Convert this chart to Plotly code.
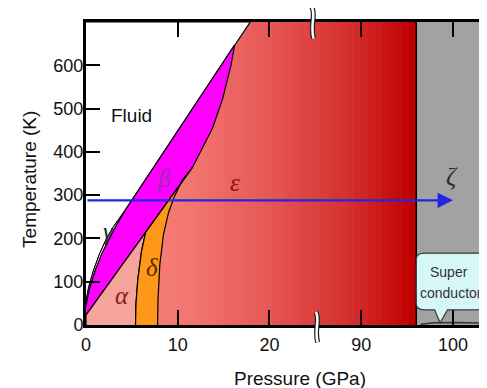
import numpy as np
import plotly.graph_objects as go

# ---------------- data (pressure in GPa, temperature in K) ----------------
melt_P = [0.0, 0.3, 0.8, 1.5, 2.2, 3.0, 4.3, 16.2, 17.9]
melt_T = [54, 88, 125, 165, 198, 227, 266, 647, 700]

gamma_beta_P = [0.0, 0.4, 1.0, 1.75, 2.55, 3.4, 4.3]
gamma_beta_T = [44, 86, 126, 166, 200, 234, 266]

beta_low_P = [0.0, 6.5, 11.6]          # alpha-beta / delta-beta boundary
beta_low_T = [23, 214, 364]

beta_eps_P = [11.6, 12.2, 13.0, 13.8, 14.9, 15.8, 16.2]
beta_eps_T = [364, 390, 422, 455, 523, 600, 647]

delta_alpha_P = [5.4, 5.45, 5.65, 6.05, 6.5]
delta_alpha_T = [0, 50, 105, 170, 214]

delta_eps_P = [7.8, 7.85, 8.05, 8.45, 9.0, 9.6, 10.5, 11.6]
delta_eps_T = [0, 60, 140, 210, 260, 295, 335, 364]

zeta_P = 96.0
sc_P = [96.5, 98.0, 100.0, 102.0, 104.5]
sc_T = [2, 5, 6, 5, 4]

arrow_P = [0, 100]
arrow_T = [288, 288]

x_tick_P = [0, 10, 20, 90, 100]
y_ticks = [0, 100, 200, 300, 400, 500, 600]

labels = [("Fluid", 5.0, 485, "#111111"),
          ("β", 8.5, 338, "#9a2cb4"),
          ("ε", 16.2, 330, "#8a1414"),
          ("ζ", 99.9, 342, "#2a2a2a"),
          ("γ", 2.4, 215, "#2a2a2a"),
          ("δ", 7.2, 132, "#5a2800"),
          ("α", 3.9, 69, "#8a1a1a")]

# ---------------- broken pressure axis ----------------
BRK_LO, BRK_HI = 25.0, 85.0
GAP = BRK_HI - BRK_LO


def d(p):
    p = np.asarray(p, dtype=float)
    return np.where(p <= BRK_LO, p, p - GAP)


X0, X1 = 0.0, 44.58
Y0, Y1 = 0.0, 700.0

fig = go.Figure()

# epsilon gradient
nx = 48
edges = np.linspace(0, float(d(zeta_P)), nx + 1)
centers = 0.5 * (edges[:-1] + edges[1:])
fig.add_trace(go.Heatmap(
    x=edges, y=[0, 700], z=[centers],
    colorscale=[[0, "rgb(249,140,132)"], [0.3, "rgb(243,118,112)"],
                [0.55, "rgb(230,88,86)"], [0.8, "rgb(212,48,46)"],
                [1, "rgb(192,0,0)"]],
    showscale=False, hoverinfo="skip", zsmooth=False))


def poly(P, T, fill, lw=1.2):
    fig.add_trace(go.Scatter(x=d(P), y=T, mode="lines", fill="toself",
                             fillcolor=fill, line=dict(color="black", width=lw),
                             hoverinfo="skip", showlegend=False))


# fluid
poly(melt_P + [0.0], melt_T + [700], "white")
# gamma
poly(melt_P[:7] + gamma_beta_P[::-1], melt_T[:7] + gamma_beta_T[::-1], "white", 1.0)
# beta
poly(gamma_beta_P + melt_P[7:8] + beta_eps_P[::-1] + beta_low_P[::-1],
     gamma_beta_T + melt_T[7:8] + beta_eps_T[::-1] + beta_low_T[::-1], "#ff00ff")
# alpha
poly([0.0] + beta_low_P[:2] + delta_alpha_P[::-1],
     [0] + beta_low_T[:2] + delta_alpha_T[::-1], "#f5a39b")
# delta
poly(delta_alpha_P + beta_low_P[2:] + delta_eps_P[::-1],
     delta_alpha_T + beta_low_T[2:] + delta_eps_T[::-1], "#ff9818")

# zeta boundary
fig.add_trace(go.Scatter(x=d([zeta_P, zeta_P]), y=[0, 700], mode="lines",
                         line=dict(color="black", width=1.5), hoverinfo="skip",
                         showlegend=False))

# superconducting callout
bx0, bx1 = float(d(zeta_P)), X1 + 2
by0, by1 = 35, 166
r = 0.9
ry = 14
tx = float(d(98.0))
tip = (float(d(98.6)), 5)
tx2 = float(d(99.4))
path = (f"M {bx0 + r},{by1} L {bx1},{by1} L {bx1},{by0} L {tx2},{by0} "
        f"L {tip[0]},{tip[1]} L {tx},{by0} L {bx0 + r},{by0} "
        f"Q {bx0},{by0} {bx0},{by0 + ry} L {bx0},{by1 - ry} Q {bx0},{by1} {bx0 + r},{by1} Z")
fig.add_shape(type="path", path=path, xref="x", yref="y",
              fillcolor="#d6f6f8", line=dict(color="#3a3a3a", width=1.2))

fig.add_trace(go.Scatter(x=d(sc_P), y=sc_T, mode="lines",
                         line=dict(color="#333333", width=1.5), hoverinfo="skip",
                         showlegend=False))

# gray zeta region
fig.add_shape(type="rect", xref="x", yref="y", x0=float(d(zeta_P)), x1=X1 + 2,
              y0=0, y1=700, fillcolor="#a2a2a2", line=dict(width=0), layer="below")

# arrow
fig.add_annotation(x=float(d(arrow_P[1])), y=arrow_T[1], ax=float(d(arrow_P[0])),
                   ay=arrow_T[0], xref="x", yref="y", axref="x", ayref="y",
                   showarrow=True, arrowhead=2, arrowsize=1.4, arrowwidth=2.2,
                   arrowcolor="#2424e8", text="")

# phase labels
for txt, p, t, c in labels:
    if txt == "Fluid":
        fam, size, s = "Liberation Sans, Arial", 19, txt
    else:
        fam, size, s = "Liberation Serif, Times New Roman", 25, f"<i>{txt}</i>"
    fig.add_annotation(x=float(d(p)), y=t, xref="x", yref="y", text=s,
                       showarrow=False, font=dict(family=fam, size=size, color=c))

fig.add_annotation(x=float(d(99.6)), y=123, xref="x", yref="y", text="Super",
                   showarrow=False, font=dict(size=14, color="#333333"))
fig.add_annotation(x=float(d(96.2)), y=74, xref="x", yref="y", text="conductor",
                   showarrow=False, xanchor="left",
                   font=dict(size=14, color="#333333"))


# axis break marks
def px(v):
    return (v - X0) / (X1 - X0)


def py(v):
    return (v - Y0) / (Y1 - Y0)


def squiggle(xc, t_top, t_bot):
    h = t_top - t_bot
    pts = [(xc - 0.15, t_top), (xc + 0.35, t_top - 0.25 * h), (xc - 0.35, t_top - 0.55 * h),
           (xc + 0.05, t_bot)]
    (a, b), (c1, c2), (e1, e2), (f1, f2) = pts
    return (f"M {px(a)},{py(b)} C {px(c1)},{py(c2)} {px(e1)},{py(e2)} {px(f1)},{py(f2)}")


for xc, tt, tb in [(24.75, 735, 662), (25.2, 30, -40)]:
    p = squiggle(xc, tt, tb)
    fig.add_shape(type="path", path=p, xref="paper", yref="paper",
                  line=dict(color="#222222", width=5))
    fig.add_shape(type="path", path=p, xref="paper", yref="paper",
                  line=dict(color="white", width=2.5))

# axis titles
fig.add_annotation(text="Pressure (GPa)", x=23.3, y=-0.175,
                   xref="x", yref="paper", showarrow=False, xanchor="center",
                   yanchor="middle", font=dict(size=19, color="#111111"))
fig.add_annotation(text="Temperature (K)", x=-0.137, y=0.482, xref="paper", yref="paper",
                   showarrow=False, textangle=-90, xanchor="center", yanchor="middle",
                   font=dict(size=19, color="#111111"))

fig.update_xaxes(range=[X0, X1], tickvals=d(x_tick_P).tolist(),
                 ticktext=[str(v) for v in x_tick_P],
                 showline=True, linewidth=3, linecolor="black", mirror="ticks",
                 ticks="inside", ticklen=15, tickwidth=2, tickcolor="black",
                 showgrid=False, zeroline=False, ticklabelstandoff=1,
                 tickfont=dict(size=18, color="#111111"))
fig.update_yaxes(range=[Y0, Y1], tickvals=y_ticks,
                 showline=True, linewidth=3, linecolor="black",
                 ticks="inside", ticklen=14, tickwidth=2, tickcolor="black",
                 showgrid=False, zeroline=False, ticklabelstandoff=-4,
                 tickfont=dict(size=18, color="#111111"))

# the page body adds an 8px offset, so margins are reduced accordingly
fig.update_layout(width=487, height=388, margin=dict(l=78, r=0, t=14, b=71),
                  plot_bgcolor="white", paper_bgcolor="white", showlegend=False,
                  font=dict(family="Liberation Sans, Arial"))

fig.write_html("out.html")
